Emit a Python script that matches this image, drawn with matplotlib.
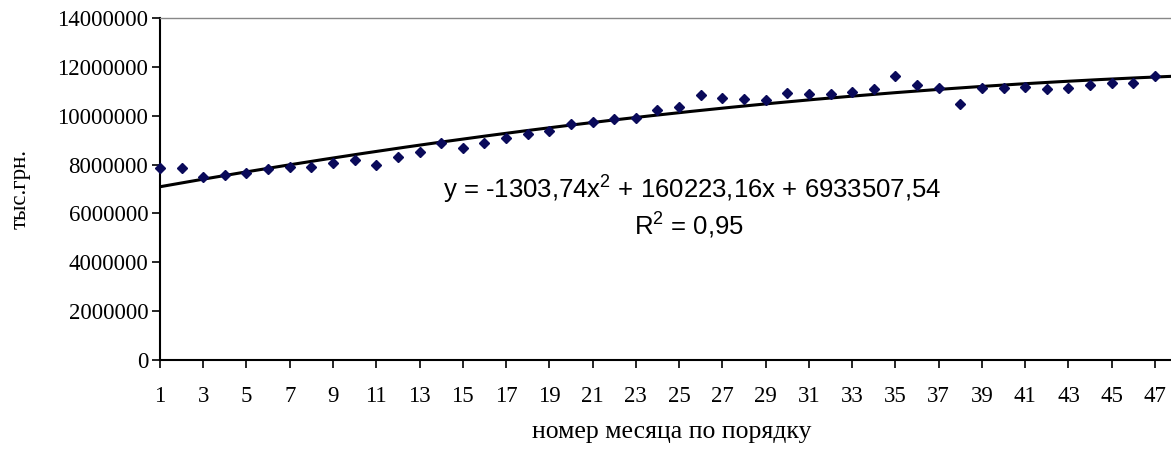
import numpy as np
import matplotlib
matplotlib.use("Agg")
import matplotlib.pyplot as plt

plt.rcParams["mathtext.fontset"] = "custom"
plt.rcParams["mathtext.rm"] = "Liberation Sans"
plt.rcParams["mathtext.it"] = "Liberation Sans"

# Monthly values (thousand UAH)
months = np.arange(1, 49)
values = [
    7840000, 7870000, 7500000, 7570000, 7670000, 7820000, 7910000, 7900000,
    8050000, 8190000, 7980000, 8320000, 8530000, 8870000, 8660000, 8900000,
    9100000, 9240000, 9390000, 9660000, 9750000, 9860000, 9890000, 10250000,
    10340000, 10850000, 10740000, 10670000, 10640000, 10940000, 10870000, 10870000,
    10960000, 11080000, 11640000, 11260000, 11120000, 10480000, 11120000, 11120000,
    11160000, 11090000, 11140000, 11260000, 11330000, 11330000, 11640000, 12140000,
]

# Polynomial trend coefficients shown on the chart
trend_coef = [-1303.74, 160223.16, 6933507.54]
trend_label = r"y = -1303,74x$^{2}$ + 160223,16x + 6933507,54"
r2_label = r"R$^{2}$ = 0,95"

y_ticks = np.arange(0, 14000001, 2000000)
x_ticks = np.arange(1, 48, 2)

fig = plt.figure(figsize=(11.71, 4.5), dpi=100)
ax = fig.add_axes([0.1366, 0.2, 0.8634, 0.76])

ax.plot(months, values, linestyle="none", marker="D", markersize=5.3,
        color="#0a0a5a", clip_on=False, zorder=3)

xs = np.linspace(1, 48, 200)
ax.plot(xs, np.polyval(trend_coef, xs), color="black", linewidth=2.2, zorder=2)

ax.set_xlim(1, 47.74)
ax.set_ylim(0, 14000000)
ax.set_yticks(y_ticks)
ax.set_yticklabels([str(v) for v in y_ticks])
ax.set_xticks(x_ticks)
ax.set_xticklabels([str(v) for v in x_ticks])

for lab in ax.get_xticklabels() + ax.get_yticklabels():
    lab.set_fontfamily("Liberation Serif")
    lab.set_fontsize(16.5)

ax.tick_params(axis="y", direction="out", length=5.5, width=1.2, pad=3)
ax.tick_params(axis="x", direction="out", length=6, width=1.2, pad=13)

ax.spines["left"].set_linewidth(1.5)
ax.spines["bottom"].set_linewidth(1.5)
ax.spines["top"].set_color("#888888")
ax.spines["top"].set_linewidth(1)
ax.spines["right"].set_visible(False)

ax.set_xlabel("номер месяца по порядку", fontfamily="Liberation Serif",
              fontsize=18.5)
ax.xaxis.set_label_coords(0.506, -0.178)
ax.set_ylabel("тыс.грн.", fontfamily="Liberation Serif", fontsize=16.5)
ax.yaxis.set_label_coords(-0.128, 0.5)

ax.text(0.526, 0.497, trend_label, transform=ax.transAxes, ha="center",
        va="center", fontfamily="Liberation Sans", fontsize=18.5)
ax.text(0.523, 0.392, r2_label, transform=ax.transAxes, ha="center",
        va="center", fontfamily="Liberation Sans", fontsize=18.5)

fig.savefig("out.png", dpi=100)
